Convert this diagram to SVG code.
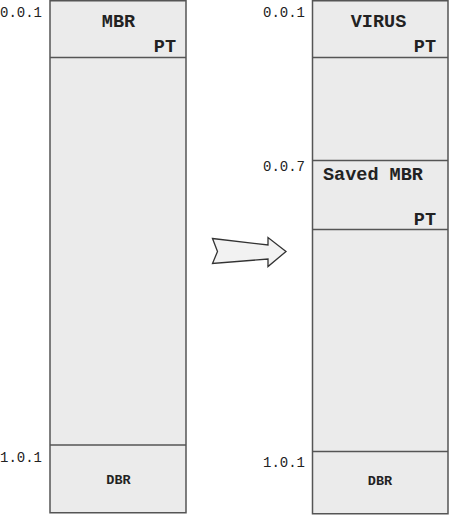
<svg xmlns="http://www.w3.org/2000/svg" width="450" height="515" viewBox="0 0 450 515">
<style>
.box{fill:#ebebeb;stroke:#555;stroke-width:1.5}
.div{stroke:#555;stroke-width:1.5;fill:none}
.lbl{font-family:"Liberation Mono","Courier New",monospace;font-weight:bold;fill:#222}
.addr{font-size:14px;font-weight:normal}
.big{font-size:18.5px}
.sm{font-size:13.5px}
</style>
<rect width="450" height="515" fill="#fff"/>
<g id="disk-before">
<rect class="box" x="50" y="0.75" width="136" height="512"/>
<line class="div" x1="50" y1="57.5" x2="186" y2="57.5"/>
<line class="div" x1="50" y1="445" x2="186" y2="445"/>
<text class="lbl big" x="118.5" y="26.5" text-anchor="middle">MBR</text>
<text class="lbl big" x="176" y="51.5" text-anchor="end">PT</text>
<text class="lbl sm" x="118.5" y="484" text-anchor="middle">DBR</text>
<text class="lbl addr" x="0" y="16.5">0.0.1</text>
<text class="lbl addr" x="0" y="461.5">1.0.1</text>
</g>
<g id="disk-after">
<rect class="box" x="312.5" y="0.75" width="135.5" height="513"/>
<line class="div" x1="312.5" y1="57.5" x2="448" y2="57.5"/>
<line class="div" x1="312.5" y1="160.5" x2="448" y2="160.5"/>
<line class="div" x1="312.5" y1="229.5" x2="448" y2="229.5"/>
<line class="div" x1="312.5" y1="451.5" x2="448" y2="451.5"/>
<text class="lbl big" x="378.5" y="27" text-anchor="middle">VIRUS</text>
<text class="lbl big" x="436" y="51.5" text-anchor="end">PT</text>
<text class="lbl big" x="323" y="179.5">Saved MBR</text>
<text class="lbl big" x="436" y="225" text-anchor="end">PT</text>
<text class="lbl sm" x="380" y="485" text-anchor="middle">DBR</text>
<text class="lbl addr" x="263" y="16.5">0.0.1</text>
<text class="lbl addr" x="263" y="170.5">0.0.7</text>
<text class="lbl addr" x="263" y="467">1.0.1</text>
</g>
<g id="connectors">
<polygon points="212.5,238.5 268,245 268,237.5 286,251.5 268,266.5 268,259 212.5,263.5 217.5,251.5" fill="#f2f2f2" stroke="#333" stroke-width="1.3" stroke-linejoin="miter"/>
</g>
</svg>
